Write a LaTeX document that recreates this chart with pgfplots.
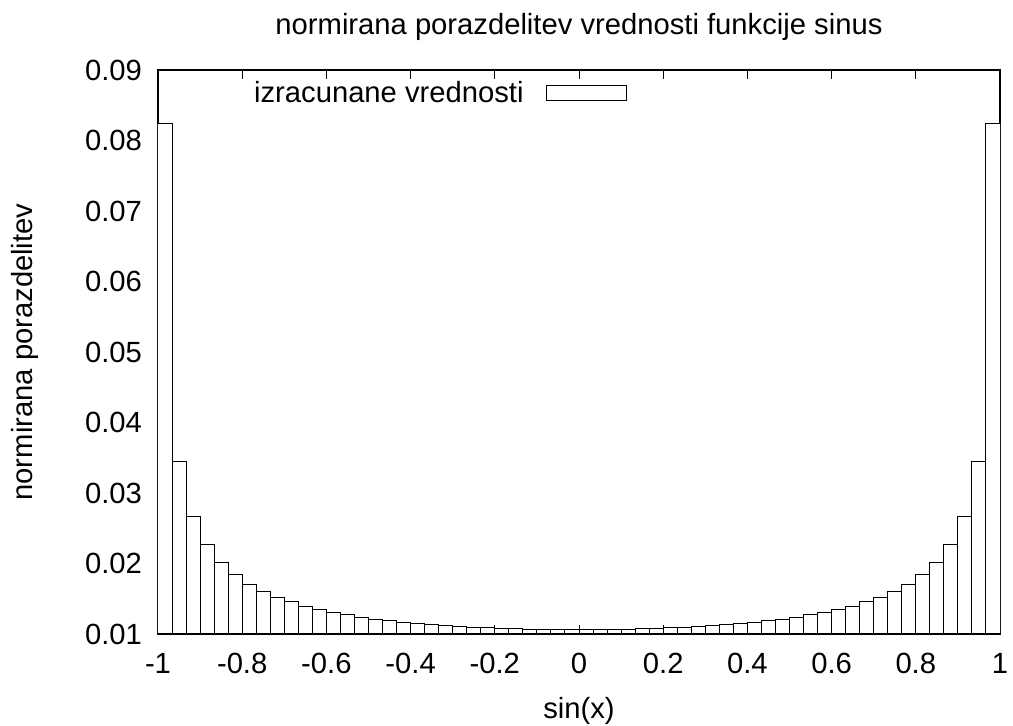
\documentclass[border=0pt]{standalone}
\usepackage{pgfplots}
\pgfplotsset{compat=1.18}
\usepackage{fontspec}
\setmainfont{Liberation Sans}
\newcommand{\chartfont}{\fontsize{14.6}{17.5}\selectfont}
\begin{document}
\begin{tikzpicture}
\path[use as bounding box] (-79pt,-46pt) rectangle (427.5pt,317pt);
\begin{axis}[
  at={(0pt,0pt)}, anchor=south west,
  scale only axis, width=421pt, height=282pt,
  xmin=-1, xmax=1, ymin=0.01, ymax=0.09,
  xtick={-1,-0.8,-0.6,-0.4,-0.2,0,0.2,0.4,0.6,0.8,1},
  xticklabels={-1,-0.8,-0.6,-0.4,-0.2,0,0.2,0.4,0.6,0.8,1},
  ytick={0.01,0.02,0.03,0.04,0.05,0.06,0.07,0.08,0.09},
  yticklabel style={/pgf/number format/fixed,/pgf/number format/precision=2,/pgf/number format/fixed zerofill, xshift=-4.5pt},
  xticklabel style={yshift=-6pt},
  scaled y ticks=false,
  /pgf/number format/assume math mode=true,
  tick align=inside, xtick pos=both, ytick pos=both,
  major tick length=4.5pt,
  tick style={black, line width=0.5pt},
  axis line style={black, line width=0.6pt},
  font=\chartfont,
  ticklabel style={font=\chartfont},
  title={normirana porazdelitev vrednosti funkcije sinus},
  title style={font=\chartfont, yshift=5pt},
  xlabel={sin(x)}, ylabel={normirana porazdelitev},
  xlabel style={font=\chartfont, at={(axis description cs:0.5,-0.136)}, anchor=center},
  ylabel style={font=\chartfont, at={(axis description cs:-0.158,0.5)}, anchor=center},
  legend style={draw=none, fill=none, font=\chartfont, at={(0.557,0.959)}, anchor=east, inner sep=0pt,
    /tikz/every odd column/.append style={column sep=9pt}},
  legend cell align=right,
  legend plot pos=right,
  legend image code/.code={\draw[black, fill=white, line width=0.5pt] (0pt,-3.75pt) rectangle (40pt,3.75pt);},
]
\addplot[ybar interval, draw=black, fill=white, line width=0.5pt] table {
x y
-1 0.0824
-0.96667 0.0345
-0.93333 0.02668
-0.9 0.02269
-0.86667 0.02017
-0.83333 0.01840
-0.8 0.01708
-0.76667 0.01605
-0.73333 0.01522
-0.7 0.01454
-0.66667 0.01397
-0.63333 0.01348
-0.6 0.01307
-0.56667 0.01271
-0.53333 0.01240
-0.5 0.01212
-0.46667 0.01188
-0.43333 0.01167
-0.4 0.01149
-0.36667 0.01133
-0.33333 0.01119
-0.3 0.01107
-0.26667 0.01096
-0.23333 0.01087
-0.2 0.01079
-0.16667 0.01073
-0.13333 0.01068
-0.1 0.01065
-0.06667 0.01062
-0.03333 0.01061
0 0.01061
0.03333 0.01062
0.06667 0.01065
0.1 0.01068
0.13333 0.01073
0.16667 0.01079
0.2 0.01087
0.23333 0.01096
0.26667 0.01107
0.3 0.01119
0.33333 0.01133
0.36667 0.01149
0.4 0.01167
0.43333 0.01188
0.46667 0.01212
0.5 0.01240
0.53333 0.01271
0.56667 0.01307
0.6 0.01348
0.63333 0.01397
0.66667 0.01454
0.7 0.01522
0.73333 0.01605
0.76667 0.01708
0.8 0.01840
0.83333 0.02017
0.86667 0.02269
0.9 0.02668
0.93333 0.0345
0.96667 0.0824
1 0.0824
};
\addlegendentry{izracunane vrednosti}
\end{axis}
\end{tikzpicture}
\end{document}
